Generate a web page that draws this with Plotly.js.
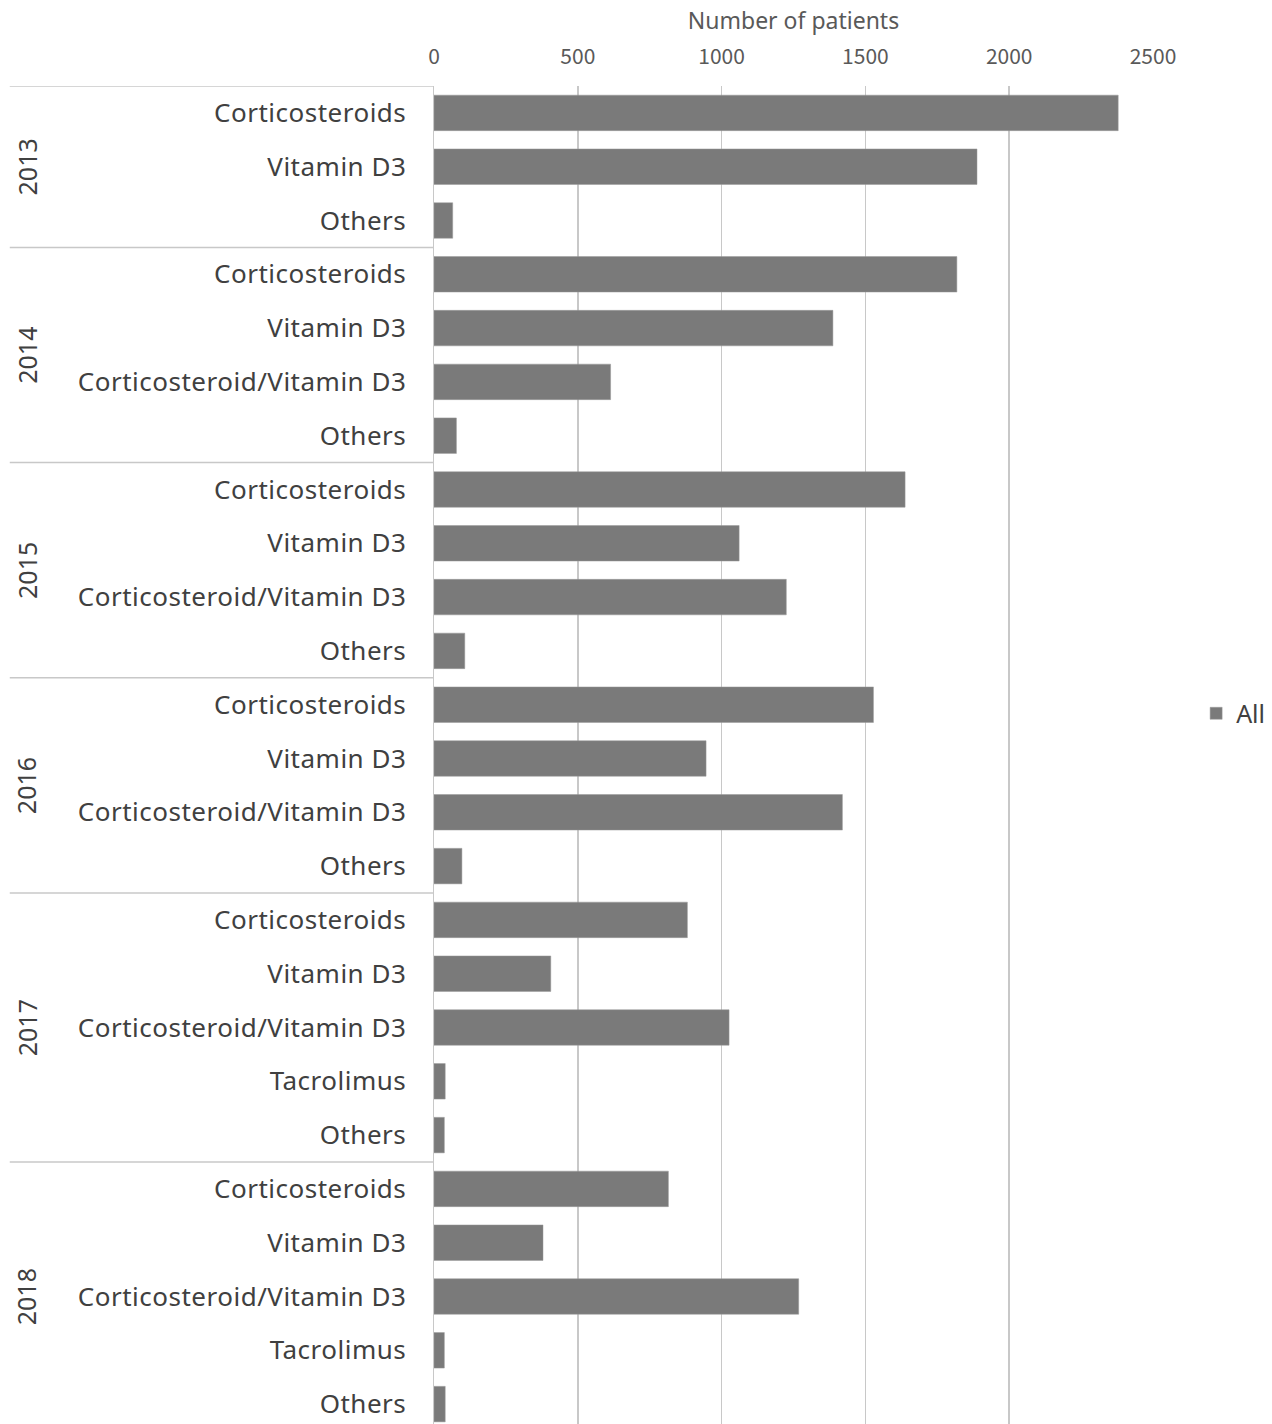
<!DOCTYPE html>
<html>
<head>
<meta charset="utf-8">
<script src="https://cdn.plot.ly/plotly-3.0.1.min.js"></script>
<style>
  html, body { margin: 0; padding: 0; background: #ffffff; }
  #chart { width: 1272px; height: 1424px; }
  /* slightly looser tracking for the category labels */
  #chart .ytick text { letter-spacing: 0.5px; }
</style>
</head>
<body>
<div id="chart"></div>
<script>
// Treatment groups by year
const years = ['2013', '2014', '2015', '2016', '2017', '2018'];

const drugs2013 = ['Corticosteroids', 'Vitamin D3', 'Others'];
const drugs2014 = ['Corticosteroids', 'Vitamin D3', 'Corticosteroid/Vitamin D3', 'Others'];
const drugs2015 = ['Corticosteroids', 'Vitamin D3', 'Corticosteroid/Vitamin D3', 'Others'];
const drugs2016 = ['Corticosteroids', 'Vitamin D3', 'Corticosteroid/Vitamin D3', 'Others'];
const drugs2017 = ['Corticosteroids', 'Vitamin D3', 'Corticosteroid/Vitamin D3', 'Tacrolimus', 'Others'];
const drugs2018 = ['Corticosteroids', 'Vitamin D3', 'Corticosteroid/Vitamin D3', 'Tacrolimus', 'Others'];

// Number of patients per treatment
const patients2013 = [2379, 1888, 65];
const patients2014 = [1818, 1387, 614, 78];
const patients2015 = [1638, 1061, 1225, 107];
const patients2016 = [1528, 946, 1420, 97];
const patients2017 = [881, 406, 1026, 39, 36];
const patients2018 = [815, 379, 1268, 36, 39];

const xTicks = [0, 500, 1000, 1500, 2000, 2500];

const groupDrugs = [drugs2013, drugs2014, drugs2015, drugs2016, drugs2017, drugs2018];
const groupPatients = [patients2013, patients2014, patients2015, patients2016, patients2017, patients2018];

// Flatten the groups into one row per bar
const rowIndex = [];
const rowLabel = [];
const rowValue = [];
const yearAnnotations = [];
const dividers = [];

const labelColor = '#404040';
const lineColor = '#c8c8c8';
const textFont = '"Noto Sans", "DejaVu Sans", sans-serif';
const numberFont = '"Noto Sans CJK JP", "Noto Sans", sans-serif';

// left edge of the divider lines, as a fraction of the plot width
const plotLeft = 434, plotRight = 1152.6;
const dividerStart = (10 - plotLeft) / (plotRight - plotLeft);
const yearLabelX = (27 - plotLeft) / (plotRight - plotLeft);

let idx = 0;
groupDrugs.forEach((list, g) => {
  const start = idx;
  list.forEach((name, k) => {
    rowIndex.push(idx);
    rowLabel.push(name);
    rowValue.push(groupPatients[g][k]);
    idx++;
  });
  dividers.push({
    type: 'line', xref: 'paper', yref: 'y',
    x0: dividerStart, x1: 0, y0: start - 0.5, y1: start - 0.5,
    line: { color: lineColor, width: 1.5 }
  });
  yearAnnotations.push({
    xref: 'paper', yref: 'y',
    x: yearLabelX, y: (start + idx - 1) / 2,
    text: years[g], textangle: -90, showarrow: false,
    xanchor: 'center', yanchor: 'middle',
    font: { family: textFont, size: 25, color: labelColor }
  });
});

const trace = {
  type: 'bar',
  orientation: 'h',
  name: 'All',
  x: rowValue,
  y: rowIndex,
  width: 0.66,
  marker: { color: '#7a7a7a', line: { color: '#9a9a9a', width: 0.5 } },
  showlegend: true,
  hoverinfo: 'x+text',
  text: rowLabel,
  textposition: 'none'
};

const layout = {
  width: 1272,
  height: 1424,
  margin: { l: plotLeft, r: 1272 - plotRight, t: 86, b: 0, autoexpand: false },
  paper_bgcolor: '#ffffff',
  plot_bgcolor: '#ffffff',
  showlegend: true,
  legend: {
    x: 1.06, y: 0.531, xanchor: 'left', yanchor: 'middle',
    font: { family: textFont, size: 25, color: labelColor },
    itemwidth: 30,
    bgcolor: 'rgba(0,0,0,0)'
  },
  xaxis: {
    side: 'top',
    range: [0, 2500],
    tickvals: xTicks,
    ticktext: xTicks.map(String),
    showgrid: true,
    gridcolor: lineColor,
    gridwidth: 1.5,
    zeroline: false,
    showline: false,
    ticks: '',
    ticklabelstandoff: 17,
    tickfont: { family: numberFont, size: 21, color: '#595959' },
    title: {
      text: 'Number of patients',
      standoff: 3,
      font: { family: textFont, size: 23, color: '#595959' }
    }
  },
  yaxis: {
    range: [24.37, -0.5],
    tickvals: rowIndex,
    ticktext: rowLabel,
    showgrid: false,
    zeroline: false,
    showline: true,
    linecolor: lineColor,
    linewidth: 1.5,
    ticks: '',
    ticklabelstandoff: 21,
    tickfont: { family: textFont, size: 26, color: labelColor }
  },
  shapes: dividers,
  annotations: yearAnnotations
};

Plotly.newPlot('chart', [trace], layout, { staticPlot: true, displayModeBar: false });
</script>
</body>
</html>
